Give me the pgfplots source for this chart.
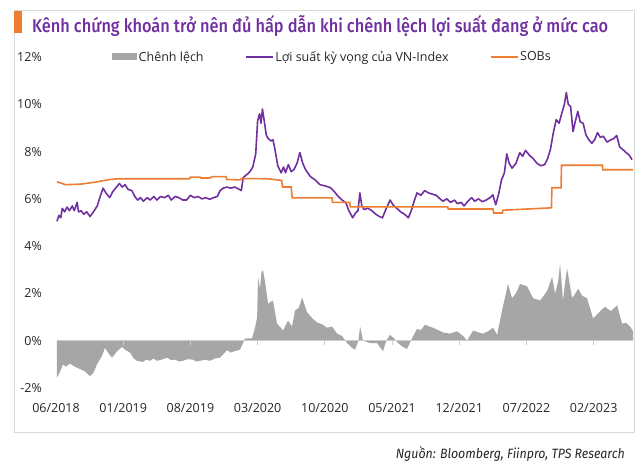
\documentclass[border=0pt]{standalone}
\usepackage{pgfplots}
\pgfplotsset{compat=1.18}
\usepackage{fontspec}
\usepackage{graphicx}
\setmainfont{Open Sans}
\newfontfamily\titlefont{Fira Sans}[UprightFont=* Medium]
\newfontfamily\srcfont{Fira Sans}
\definecolor{vnpurple}{HTML}{7030A0}
\definecolor{sobor}{HTML}{ED7D31}
\definecolor{sprgray}{HTML}{A6A6A6}
\definecolor{framegray}{HTML}{D9D9D9}
\begin{document}
\begin{tikzpicture}[x=1pt,y=1pt]
\useasboundingbox (0,0) rectangle (639,465);
\draw[framegray, line width=0.8pt] (14,33) rectangle (634,455);
\fill[sobor] (14,432) rectangle (22,454);
\node[anchor=base west, inner sep=0pt, text=vnpurple] at (32,432)
  {\resizebox{576pt}{\height}{\titlefont\fontsize{18.5}{20}\selectfont Kênh chứng khoán trở nên đủ hấp dẫn khi chênh lệch lợi suất đang ở mức cao}};
\node[anchor=base east, inner sep=0pt, text=black!85] at (625,6)
  {\resizebox{229pt}{\height}{\srcfont\itshape\fontsize{13.5}{15}\selectfont Nguồn: Bloomberg, Fiinpro, TPS Research}};
\begin{axis}[
  at={(56pt,77pt)}, anchor=south west,
  scale only axis, width=578pt, height=331pt,
  xmin=0, xmax=60.2, ymin=-2, ymax=12,
  axis line style={draw=none}, tick style={draw=none},
  /pgf/number format/assume math mode=true,
  xtick={0,7,14,21,28,35,42,49,56},
  xticklabels={06/2018,01/2019,08/2019,03/2020,10/2020,05/2021,12/2021,07/2022,02/2023},
  ytick={-2,0,2,4,6,8,10,12},
  yticklabels={-2\%,0\%,2\%,4\%,6\%,8\%,10\%,12\%},
  tick label style={font=\fontsize{12.5}{14}\selectfont, text=black!85},
  yticklabel style={anchor=east, inner sep=0pt, xshift=-14pt},
  xticklabel style={anchor=north, inner sep=0pt, yshift=-15pt},
  legend columns=3,
  legend style={at={(0.0969,1.0)}, anchor=west, draw=none, fill=none, inner sep=0pt,
    font=\fontsize{12.5}{14}\selectfont, text=black!85,
    nodes={inner sep=1.5pt},
    /tikz/every even column/.append style={column sep=40pt}},
  legend cell align=left,
  clip=false,
]
\addplot[fill=sprgray, draw=none, area legend,
  legend image code/.code={\fill[sprgray] (0pt,-3.5pt) rectangle (25pt,3.5pt);}]
coordinates {
(0.1,0) (0.1,-1.57) (0.42,-1.3) (0.73,-1.0) (1.0,-1.1) (1.46,-0.97) (1.98,-1.1) (2.5,-1.2) (3.02,-1.3) (3.54,-1.5)
(3.9,-1.35) (4.27,-1.0) (4.79,-0.64) (5.1,-0.3) (5.42,-0.5) (5.83,-0.72) (6.35,-0.45) (6.88,-0.26) (7.19,-0.38)
(7.71,-0.5) (8.1,-0.75) (8.44,-0.85) (9.06,-0.9) (9.4,-0.8) (9.79,-0.85) (10.15,-0.75) (10.52,-0.85) (11.0,-0.8) (11.56,-0.72)
(12.0,-0.82) (12.4,-0.8) (12.8,-0.88) (13.23,-0.85) (13.7,-0.78) (14.27,-0.8) (14.6,-0.88) (15.0,-0.85) (15.5,-0.8) (16.04,-0.85)
(16.56,-0.75) (17.08,-0.72) (17.81,-0.4) (18.2,-0.5) (18.54,-0.45) (19.17,-0.38) (19.48,-0.1) (19.69,0.1) (20.42,0.1)
(20.73,0.55) (20.95,1.0) (21.04,2.7) (21.25,2.2) (21.4,2.9) (21.56,2.98) (21.77,2.5) (22.08,1.57) (22.6,1.7) (23.02,0.72)
(23.3,0.6) (23.65,0.43) (24.17,0.85) (24.58,0.6) (24.9,1.28) (25.3,1.4) (25.63,1.83) (26.15,1.2) (26.7,0.95) (27.19,0.77)
(27.7,0.7) (28.23,0.55) (28.75,0.6) (29.27,0.3) (29.79,0.2) (30.31,-0.1) (30.83,-0.3) (31.15,-0.38) (31.5,0.0) (31.67,0.6)
(31.98,0.0) (32.71,-0.1) (33.44,-0.1) (34.06,-0.45) (34.4,0.0) (34.79,0.25) (35.2,0.1) (35.63,-0.1) (36.1,-0.25) (36.56,-0.35)
(37.08,0.1) (37.6,0.5) (38.0,0.45) (38.44,0.68) (38.9,0.6) (39.27,0.55) (39.8,0.45) (40.31,0.35) (41.04,0.3) (41.77,0.4)
(42.4,0.2) (42.81,0.0) (43.44,0.43) (44.0,0.35) (44.48,0.3) (45.0,0.4) (45.52,0.55) (45.94,0.25) (46.46,1.28) (47.08,2.4)
(47.5,1.8) (47.9,2.0) (48.33,2.4) (48.7,2.35) (49.06,2.3) (49.69,1.8) (50.42,1.7) (51.15,2.1) (51.67,2.7) (51.98,1.98)
(52.3,2.5) (52.5,3.26) (52.81,1.7) (53.0,2.4) (53.23,3.06) (53.75,1.8) (54.1,2.0) (54.38,2.2) (54.8,1.9) (55.31,1.8)
(55.94,0.94) (56.46,1.15) (56.8,1.3) (57.19,1.43) (57.8,1.25) (58.44,1.5) (58.96,0.72) (59.4,0.75) (59.79,0.6) (60.1,0.4) (60.1,0)
} \closedcycle;
\addlegendentry{Chênh lệch}
\addplot[vnpurple, line width=1.6pt, line join=round,
  legend image code/.code={\draw[vnpurple, line width=1.6pt] (0pt,0pt) -- (27pt,0pt);}]
coordinates {
(0.1,5.05) (0.3,5.3) (0.5,5.2) (0.65,5.6) (0.9,5.45) (1.15,5.65) (1.4,5.5) (1.7,5.7) (1.9,5.5) (2.2,5.85) (2.35,5.45)
(2.6,5.5) (2.9,5.35) (3.2,5.45) (3.55,5.25) (3.9,5.45) (4.3,5.7) (4.6,6.1) (4.9,6.45) (5.2,6.25) (5.6,6.05) (5.9,6.3)
(6.2,6.45) (6.6,6.65) (6.9,6.5) (7.2,6.6) (7.5,6.4) (7.9,6.35) (8.2,6.1) (8.5,5.95) (8.8,6.05) (9.1,5.9) (9.5,6.05)
(9.8,5.95) (10.2,6.1) (10.5,5.95) (10.9,6.1) (11.3,6.05) (11.7,6.15) (12.0,5.95) (12.4,6.1) (12.8,6.05) (13.2,5.95)
(13.6,5.95) (14.0,6.15) (14.4,6.05) (14.8,6.1) (15.2,6.0) (15.6,6.05) (16.0,5.98) (16.4,6.05) (16.8,6.1) (17.1,6.35)
(17.4,6.45) (17.8,6.5) (18.2,6.45) (18.6,6.5) (19.0,6.42) (19.3,6.35) (19.5,6.9) (19.8,7.0) (20.2,7.15) (20.5,7.35)
(20.8,7.9) (21.0,9.3) (21.2,9.6) (21.35,9.2) (21.5,9.8) (21.65,9.4) (21.9,8.7) (22.1,8.55) (22.4,8.45) (22.6,8.5)
(22.8,8.1) (23.1,7.4) (23.45,7.1) (23.7,7.35) (23.9,7.1) (24.2,7.45) (24.5,7.15) (24.8,7.25) (25.1,7.5) (25.4,7.96)
(25.7,7.5) (26.0,7.23) (26.5,6.94) (27.0,6.8) (27.5,6.6) (28.0,6.55) (28.6,6.47) (29.0,6.3) (29.4,6.1) (29.8,5.95)
(30.2,5.83) (30.5,5.5) (30.9,5.2) (31.2,5.4) (31.45,5.5) (31.65,6.25) (31.85,5.7) (32.1,5.55) (32.5,5.6) (32.9,5.5)
(33.3,5.35) (33.7,5.25) (34.0,5.2) (34.4,5.6) (34.8,5.95) (35.1,5.75) (35.5,5.6) (35.9,5.45) (36.3,5.35) (36.7,5.2)
(37.0,5.5) (37.3,5.9) (37.6,6.25) (38.0,6.15) (38.4,6.35) (38.8,6.25) (39.2,6.2) (39.6,6.15) (40.0,6.0) (40.3,5.9)
(40.7,6.0) (41.1,5.85) (41.5,5.95) (41.8,5.8) (42.2,5.85) (42.5,5.7) (42.9,5.9) (43.3,6.05) (43.6,5.9) (44.0,6.0)
(44.4,5.88) (44.8,5.95) (45.2,6.05) (45.5,6.17) (45.8,5.75) (46.1,6.2) (46.4,6.8) (46.7,7.1) (46.95,7.9) (47.2,7.5)
(47.5,7.3) (47.9,7.5) (48.3,7.95) (48.6,7.8) (48.9,8.05) (49.3,7.85) (49.7,7.7) (50.1,7.5) (50.5,7.4) (50.9,7.45)
(51.2,7.7) (51.5,8.1) (51.8,8.8) (52.1,9.35) (52.4,9.2) (52.7,9.65) (52.95,10.0) (53.15,10.5) (53.35,10.0) (53.6,9.9)
(53.85,8.85) (54.1,9.3) (54.35,9.7) (54.6,9.25) (54.9,9.2) (55.2,8.7) (55.5,8.5) (55.8,8.35) (56.1,8.5) (56.4,8.8)
(56.7,8.6) (57.0,8.65) (57.4,8.4) (57.8,8.5) (58.1,8.55) (58.4,8.68) (58.7,8.2) (59.0,8.1) (59.4,7.95) (59.7,7.85) (60.0,7.66)
};
\addlegendentry{Lợi suất kỳ vọng của VN-Index}
\addplot[sobor, line width=1.6pt,
  legend image code/.code={\draw[sobor, line width=1.6pt] (0pt,0pt) -- (27pt,0pt);}]
coordinates {
(0.1,6.72) (1.0,6.6) (2.5,6.62) (4.0,6.7) (5.6,6.82) (6.5,6.85) (13.9,6.85) (14.0,6.92) (15.0,6.92) (15.1,6.88)
(16.0,6.88) (16.3,6.94) (17.7,6.94) (17.8,6.82) (19.2,6.8) (19.3,6.86) (22.0,6.85) (23.5,6.78) (23.6,6.5) (24.5,6.5)
(24.6,6.04) (28.75,6.04) (28.8,5.85) (30.6,5.85) (30.65,5.66) (40.8,5.66) (40.85,5.57) (45.5,5.57) (45.6,5.4) (46.5,5.4)
(46.55,5.52) (51.6,5.62) (51.65,6.47) (52.6,6.47) (52.65,7.42) (56.9,7.42) (56.95,7.23) (60.1,7.23)
};
\addlegendentry{SOBs}
\draw[white!80!black, line width=0.9pt] (axis cs:0.1,0) -- (axis cs:60.1,0);
\pgfplotsinvokeforeach{7,14,21,28,35,42,49,56}{
  \draw[white!80!black, line width=0.8pt] (axis cs:#1,0) -- (axis cs:#1,-0.17);
}
\end{axis}
\end{tikzpicture}
\end{document}
